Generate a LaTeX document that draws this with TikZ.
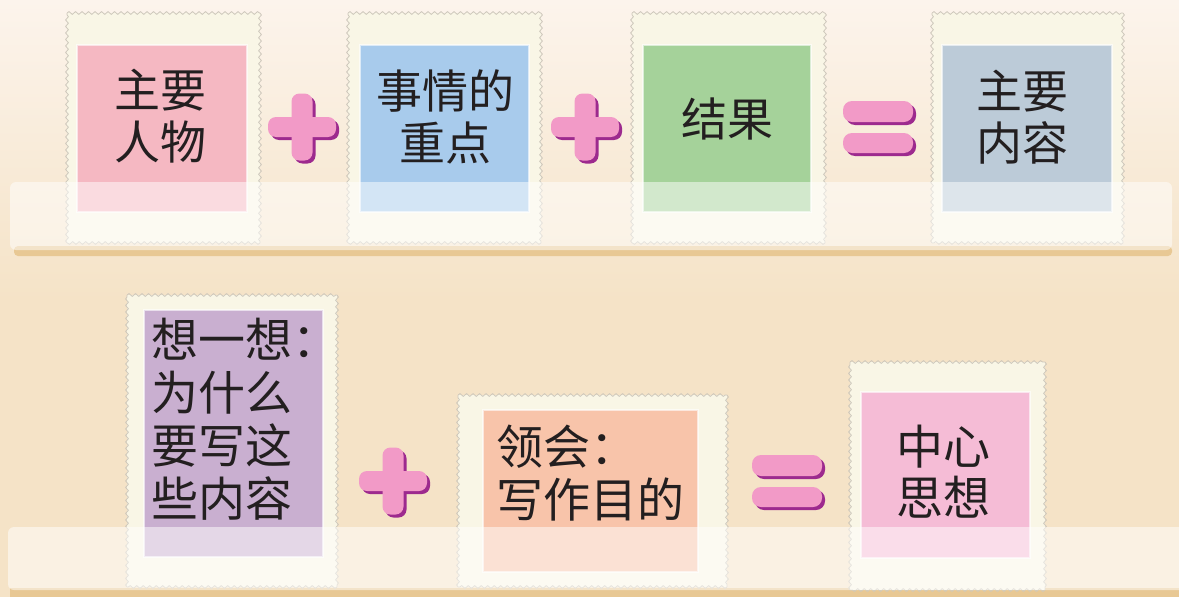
\documentclass[tikz,border=0pt]{standalone}
\usepackage{fontspec}
\newfontfamily\cjk{Noto Sans CJK SC}
\usetikzlibrary{decorations.pathmorphing,positioning}

\definecolor{paperbg}{RGB}{245,227,199}
\definecolor{papertop}{RGB}{252,244,236}
\definecolor{stampcream}{RGB}{249,246,230}
\definecolor{perfline}{RGB}{206,200,188}
\definecolor{cardpink}{RGB}{245,184,194}
\definecolor{cardblue}{RGB}{168,203,236}
\definecolor{cardgreen}{RGB}{165,210,154}
\definecolor{cardgrey}{RGB}{188,203,216}
\definecolor{cardlilac}{RGB}{201,175,208}
\definecolor{cardpeach}{RGB}{248,196,170}
\definecolor{cardrose}{RGB}{245,188,214}
\definecolor{markpink}{RGB}{242,154,199}
\definecolor{markshade}{RGB}{157,42,142}
\definecolor{shelfedge}{RGB}{232,200,148}
\definecolor{inkblack}{RGB}{35,31,32}

\begin{document}
\begin{tikzpicture}[x=1pt,y=-1pt,
    perf/.style={draw=perfline, line width=0.8pt, decorate,
      decoration={snake, segment length=6.5pt, amplitude=1.4pt}},
    card/.style={rectangle, draw=white, draw opacity=0.6, line width=1.2pt, inner sep=0pt},
    word/.style={font=\cjk\fontsize{46}{52}\selectfont, text=inkblack, align=center, inner sep=0pt},
    bigword/.style={word, font=\cjk\fontsize{47}{53}\selectfont, align=left, anchor=west},
    shelf/.style={fill=white, fill opacity=0.5, rounded corners=6pt},
    plusmark/.pic={
      \fill[markshade, rounded corners=8pt] (-31,-7) rectangle (37,13);
      \fill[markshade, rounded corners=8pt] (-7.5,-30.5) rectangle (13.5,36.5);
      \fill[markpink, rounded corners=8pt] (-34,-10) rectangle (34,10);
      \fill[markpink, rounded corners=8pt] (-10.5,-33.5) rectangle (10.5,33.5);
    },
    eqmark/.pic={
      \fill[markshade, rounded corners=9pt] (-32,-23) rectangle (38,-2);
      \fill[markshade, rounded corners=9pt] (-32,9) rectangle (38,29);
      \fill[markpink, rounded corners=9pt] (-35,-26) rectangle (35,-5);
      \fill[markpink, rounded corners=9pt] (-35,6) rectangle (35,26);
    }]
    \useasboundingbox (0,0) rectangle (1179,597);
    % paper
    \shade[top color=papertop, bottom color=paperbg] (0,0) rectangle (1179,300);
    \fill[paperbg] (0,299) rectangle (1179,597);
    % shelf shadows
    \fill[shelfedge, rounded corners=4pt] (14,246) rectangle (1172,256);
    \fill[shelfedge] (10,588) rectangle (1179,597);

    % stamps
    \foreach \xa/\ya/\xb/\yb in {67/13/260/243, 348/13/541/243, 632/13/825/243,
        932/13/1123/243, 127/295/337/587, 458/395/727/587, 850/362/1045/590} {
      \fill[stampcream] (\xa,\ya) rectangle (\xb,\yb);
      \draw[perf] (\xa,\ya) -- (\xb,\ya);
      \draw[perf] (\xb,\ya) -- (\xb,\yb);
      \draw[perf] (\xb,\yb) -- (\xa,\yb);
      \draw[perf] (\xa,\yb) -- (\xa,\ya);
    }

    % top row
    \node[card, fill=cardpink, minimum width=170, minimum height=167] (renwu) at (162,128.5) {};
    \node[word] (renwu-t) at (160,116) {主要\\人物};

    \node[card, fill=cardblue, minimum width=169, minimum height=167] (zhongdian) at (444.5,128.5) {};
    \node[word] (zhongdian-t) at (445,117) {事情的\\重点};

    \node[card, fill=cardgreen, minimum width=168, minimum height=167] (jieguo) at (727,128.5) {};
    \node[word] (jieguo-t) at (727,119) {结果};

    \node[card, fill=cardgrey, minimum width=170, minimum height=167] (neirong) at (1027,128.5) {};
    \node[word] (neirong-t) at (1022,117) {主要\\内容};

    \pic (plusA) at (302,127) {plusmark};
    \pic (plusB) at (585,127) {plusmark};
    \pic (eqA) at (878,127) {eqmark};

    % bottom row
    \node[card, fill=cardlilac, minimum width=179, minimum height=247] (xiangyixiang) at (233.5,433.5) {};
    \node[bigword] (xiangyixiang-t) at (151,419) {想一想：\\为什么\\要写这\\些内容};

    \node[card, fill=cardpeach, minimum width=215, minimum height=162] (linghui) at (590.5,491) {};
    \node[bigword] (linghui-t) at (496,473) {领会：\\写作目的};

    \node[card, fill=cardrose, minimum width=169, minimum height=166] (zhongxin) at (945.5,475) {};
    \node[word, font=\cjk\fontsize{47}{51}\selectfont] (zhongxin-t) at (943,472) {中心\\思想};

    \pic (plusC) at (393,481) {plusmark};
    \pic (eqB) at (787,481) {eqmark};

    % shelves over the stamps
    \fill[shelf] (10,182) rectangle (1172,250);
    \fill[shelf] (8,527) rectangle (1190,590);
\end{tikzpicture}
\end{document}
